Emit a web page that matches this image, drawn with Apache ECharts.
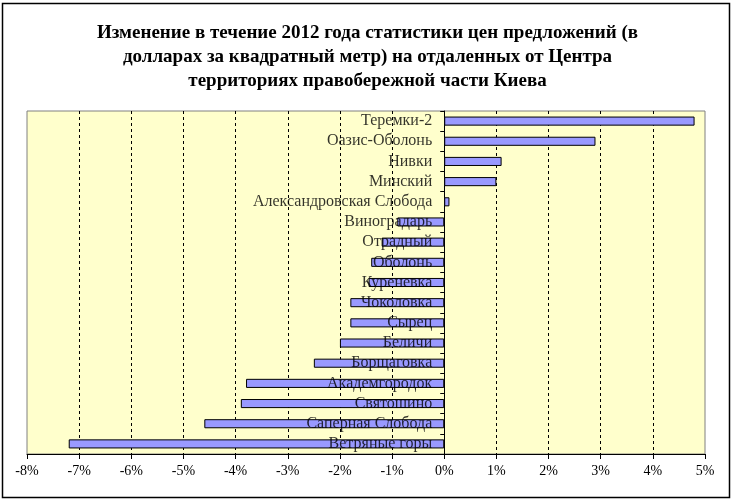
<!DOCTYPE html>
<html>
<head>
<meta charset="utf-8">
<script src="https://cdn.jsdelivr.net/npm/echarts@6/dist/echarts.min.js"></script>
<style>html,body{margin:0;padding:0;background:#fff}#c{width:735px;height:502px}</style>
</head>
<body>
<div id="c"></div>
<script>
var categories = ['Теремки-2','Оазис-Оболонь','Нивки','Минский','Александровская Слобода','Виноградарь','Отрадный','Оболонь','Куреневка','Чоколовка','Сырец','Беличи','Борщаговка','Академгородок','Святошино','Саперная Слобода','Ветряные горы'];
var values = [4.8, 2.9, 1.1, 1.0, 0.1, -0.9, -1.2, -1.4, -1.45, -1.8, -1.8, -2.0, -2.5, -3.8, -3.9, -4.6, -7.2];
var xMin = -8, xMax = 5, xStep = 1;
var titleText = 'Изменение в течение 2012 года статистики цен предложений (в\nдолларах за квадратный метр) на отдаленных от Центра\nтерриториях правобережной части Киева';

var labelPoints = categories.map(function (c) { return [0, c]; });

var chart = echarts.init(document.getElementById('c'), null, {renderer: 'canvas'});
chart.setOption({
  animation: false,
  backgroundColor: '#ffffff',
  title: {
    text: titleText,
    left: 'center',
    top: 16,
    textStyle: {fontFamily: 'Liberation Serif', fontWeight: 'bold', fontSize: 19, lineHeight: 24, color: '#000'}
  },
  graphic: [{
    type: 'rect', shape: {x: 2.5, y: 3.5, width: 727, height: 494},
    style: {fill: 'none', stroke: '#000', lineWidth: 1.5}, silent: true, z: 100
  }],
  grid: {left: 27, right: 30, top: 111, bottom: 48, outerBoundsMode: 'none', containLabel: false, show: true, backgroundColor: '#FFFFCC', borderColor: '#808080', borderWidth: 1},
  xAxis: {
    type: 'value', min: xMin, max: xMax, interval: xStep,
    axisLine: {show: true, lineStyle: {color: '#000', width: 1}},
    axisTick: {show: true, length: 5, lineStyle: {color: '#000'}},
    axisLabel: {formatter: function(v){return v + '%';}, fontFamily: 'Liberation Serif', fontSize: 14, color: '#000', margin: 10},
    splitLine: {show: true, showMinLine: false, showMaxLine: false, lineStyle: {color: '#000', type: [3, 3], width: 1}}
  },
  yAxis: {
    type: 'category', data: categories, inverse: true,
    axisLine: {show: true, onZero: true, lineStyle: {color: '#000', width: 1}},
    axisTick: {show: true, length: 4, lineStyle: {color: '#000'}},
    axisLabel: {show: false},
    splitLine: {show: false}
  },
  series: [{
    type: 'bar', data: values, barCategoryGap: '55%',
    itemStyle: {color: '#9999FF', borderColor: '#000', borderWidth: 1}
  }, {
    type: 'scatter', data: labelPoints, symbolSize: 0, z: 10, silent: true,
    label: {show: true, position: 'left', distance: 12, formatter: function(p){return p.value[1];},
      fontFamily: 'Liberation Serif', fontSize: 16, color: '#000'}
  }]
});
</script>
</body>
</html>
